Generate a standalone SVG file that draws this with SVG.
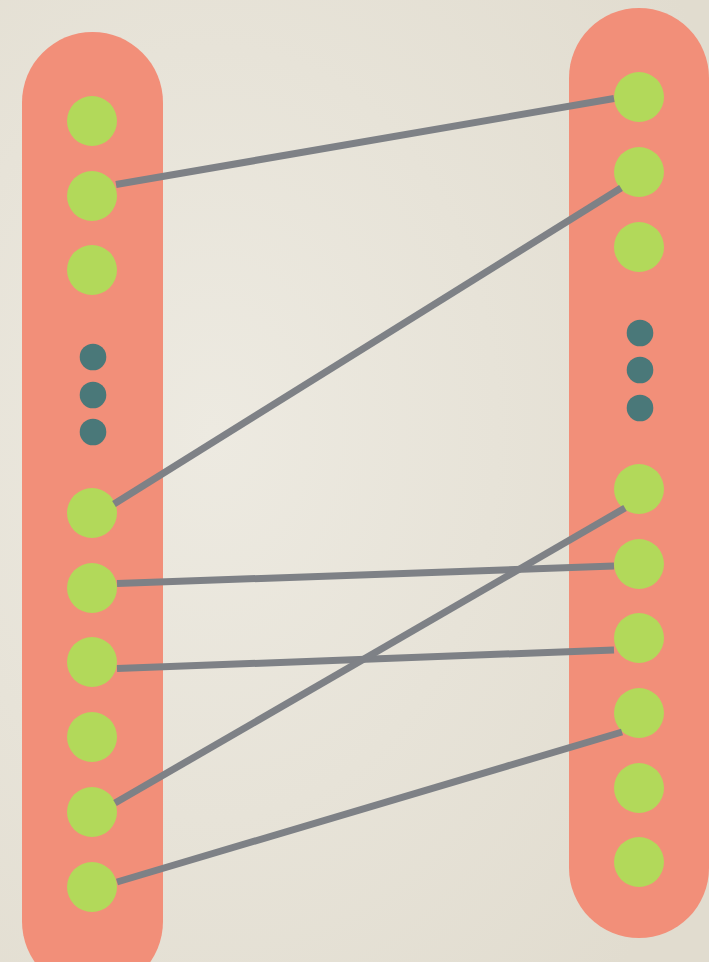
<svg xmlns="http://www.w3.org/2000/svg" width="709" height="962" viewBox="0 0 709 962">
<defs>
<radialGradient id="bg" cx="0.3" cy="0.45" r="0.8">
<stop offset="0" stop-color="#EDEAE1"/>
<stop offset="1" stop-color="#E1DCCF"/>
</radialGradient>
<style>
.set{fill:#F28F79}
.n{fill:#B2D95A}
.d{fill:#4A7879}
.e{stroke:#7E8186;stroke-width:7;stroke-linecap:butt;fill:none}
</style>
</defs>
<rect width="709" height="962" fill="url(#bg)"/>
<g id="left-set"><rect class="set" x="22" y="32" width="141" height="960" rx="70.5"/></g>
<g id="right-set"><rect class="set" x="569" y="8" width="140" height="930" rx="70"/></g>
<g id="left-nodes">
<g id="L1"><circle class="n" cx="92" cy="121" r="25"/></g>
<g id="L2"><circle class="n" cx="92" cy="196" r="25"/></g>
<g id="L3"><circle class="n" cx="92" cy="270" r="25"/></g>
<g id="L-ellipsis"><circle class="d" cx="93" cy="357" r="13.3"/><circle class="d" cx="93" cy="395" r="13.3"/><circle class="d" cx="93" cy="432" r="13.3"/></g>
<g id="L4"><circle class="n" cx="92" cy="513" r="25"/></g>
<g id="L5"><circle class="n" cx="92" cy="588" r="25"/></g>
<g id="L6"><circle class="n" cx="92" cy="662" r="25"/></g>
<g id="L7"><circle class="n" cx="92" cy="737" r="25"/></g>
<g id="L8"><circle class="n" cx="92" cy="812" r="25"/></g>
<g id="L9"><circle class="n" cx="92" cy="887" r="25"/></g>
</g>
<g id="right-nodes">
<g id="R1"><circle class="n" cx="639" cy="97" r="25"/></g>
<g id="R2"><circle class="n" cx="639" cy="172" r="25"/></g>
<g id="R3"><circle class="n" cx="639" cy="247" r="25"/></g>
<g id="R-ellipsis"><circle class="d" cx="640" cy="333" r="13.3"/><circle class="d" cx="640" cy="370" r="13.3"/><circle class="d" cx="640" cy="408" r="13.3"/></g>
<g id="R4"><circle class="n" cx="639" cy="489" r="25"/></g>
<g id="R5"><circle class="n" cx="639" cy="564" r="25"/></g>
<g id="R6"><circle class="n" cx="639" cy="638" r="25"/></g>
<g id="R7"><circle class="n" cx="639" cy="713" r="25"/></g>
<g id="R8"><circle class="n" cx="639" cy="788" r="25"/></g>
<g id="R9"><circle class="n" cx="639" cy="862" r="25"/></g>
</g>
<g id="connectors">
<line class="e" x1="116" y1="184.5" x2="614" y2="98.5"/>
<line class="e" x1="114" y1="504" x2="621" y2="188"/>
<line class="e" x1="117" y1="583.5" x2="614" y2="566"/>
<line class="e" x1="117" y1="668.5" x2="614" y2="650"/>
<line class="e" x1="115" y1="803" x2="625" y2="508"/>
<line class="e" x1="117" y1="882" x2="622" y2="732"/>
</g>
</svg>
